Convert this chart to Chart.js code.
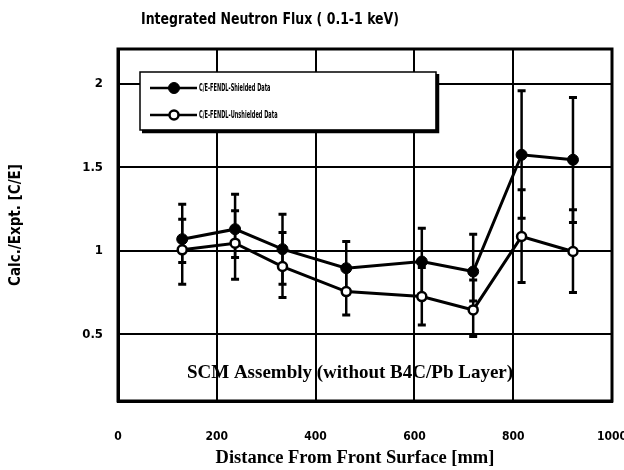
<!DOCTYPE html>
<html><head><meta charset="utf-8">
<script src="https://cdn.jsdelivr.net/npm/chart.js@4"></script>
<style>html,body{margin:0;padding:0;background:#fff}canvas{display:block}</style>
</head><body>
<canvas id="c" width="624" height="470"></canvas>
<script>
// ---- data ----
const distances = [130, 237, 333, 462, 615, 719, 817, 921];            // mm
const shielded = [1.07, 1.13, 1.01, 0.896, 0.936, 0.876, 1.576, 1.546];
const shieldedLow = [0.93, 0.96, 0.80, 0.74, 0.74, 0.70, 1.196, 1.17];
const shieldedHigh = [1.28, 1.34, 1.22, 1.056, 1.136, 1.10, 1.96, 1.92];
const unshielded = [1.006, 1.046, 0.906, 0.756, 0.726, 0.646, 1.086, 0.996];
const unshieldedLow = [0.80, 0.83, 0.72, 0.616, 0.556, 0.486, 0.81, 0.75];
const unshieldedHigh = [1.19, 1.24, 1.11, 0.90, 0.90, 0.826, 1.366, 1.246];
const xTicks = [0, 200, 400, 600, 800, 1000];
const yTicks = [0.5, 1, 1.5, 2];
const seriesLabels = ['C/E-FENDL-Shielded Data', 'C/E-FENDL-Unshielded Data'];
const titleText = 'Integrated Neutron Flux ( 0.1-1 keV)';
const xTitleText = 'Distance From Front Surface [mm]';
const yTitleText = 'Calc./Expt. [C/E]';
const noteText = 'SCM Assembly (without B4C/Pb Layer)';

const SANS = "'Liberation Sans Narrow','DejaVu Sans Condensed','Arial Narrow',sans-serif";
const SERIF = "'Liberation Serif','DejaVu Serif',serif";

const errorData = [
  {low: shieldedLow, high: shieldedHigh},
  {low: unshieldedLow, high: unshieldedHigh}
];

function squeezedText(ctx, text, x, y, sx) {
  ctx.save();
  ctx.translate(x, y);
  ctx.scale(sx, 1);
  ctx.fillText(text, 0, 0);
  ctx.restore();
}

const customPlugin = {
  id: 'custom',
  beforeDatasetsDraw(chart) {
    const {ctx, chartArea, scales: {x, y}} = chart;
    ctx.save();
    ctx.beginPath();
    ctx.rect(chartArea.left, chartArea.top, chartArea.right - chartArea.left, chartArea.bottom - chartArea.top);
    ctx.clip();
    ctx.strokeStyle = '#000';
    errorData.forEach((e) => {
      distances.forEach((d, i) => {
        const px = x.getPixelForValue(d);
        const pl = y.getPixelForValue(e.low[i]);
        const ph = y.getPixelForValue(e.high[i]);
        ctx.lineWidth = 2.5;
        ctx.beginPath();
        ctx.moveTo(px, pl); ctx.lineTo(px, ph);
        ctx.stroke();
        ctx.lineWidth = 3;
        ctx.beginPath();
        ctx.moveTo(px - 4, pl); ctx.lineTo(px + 4, pl);
        ctx.moveTo(px - 4, ph); ctx.lineTo(px + 4, ph);
        ctx.stroke();
      });
    });
    ctx.restore();
  },
  afterDraw(chart) {
    const {ctx, chartArea} = chart;
    ctx.save();
    // frame
    ctx.strokeStyle = '#000';
    ctx.lineWidth = 3;
    ctx.strokeRect(chartArea.left, chartArea.top, chartArea.right - chartArea.left, chartArea.bottom - chartArea.top);
    // title
    ctx.fillStyle = '#000';
    ctx.font = 'bold 16px ' + SANS;
    ctx.textAlign = 'left';
    ctx.textBaseline = 'middle';
    squeezedText(ctx, titleText, 141, 20, 0.87);
    // x axis title
    ctx.font = 'bold 18.5px ' + SERIF;
    ctx.textAlign = 'center';
    ctx.textBaseline = 'alphabetic';
    ctx.fillText(xTitleText, 355, 463);
    // annotation
    ctx.font = 'bold 19px ' + SERIF;
    ctx.fillText(noteText, 350, 378);
    // legend box
    const bx = 140, by = 72, bw = 296, bh = 58;
    ctx.fillStyle = '#fff';
    ctx.fillRect(bx, by, bw, bh);
    ctx.lineWidth = 1.5;
    ctx.strokeRect(bx, by, bw, bh);
    ctx.lineWidth = 3.5;
    ctx.beginPath();
    ctx.moveTo(bx + 2, by + bh + 1.5); ctx.lineTo(bx + bw + 1.5, by + bh + 1.5); ctx.lineTo(bx + bw + 1.5, by + 2);
    ctx.stroke();
    const rows = [88, 115];
    chart.data.datasets.forEach((ds, i) => {
      const yy = rows[i];
      ctx.strokeStyle = '#000';
      ctx.lineWidth = 2.5;
      ctx.beginPath();
      ctx.moveTo(150, yy); ctx.lineTo(197, yy);
      ctx.stroke();
      ctx.beginPath();
      ctx.arc(174, yy, ds.pointRadius, 0, Math.PI * 2);
      ctx.fillStyle = ds.pointBackgroundColor;
      ctx.fill();
      ctx.lineWidth = ds.pointBorderWidth;
      ctx.stroke();
      ctx.fillStyle = '#000';
      ctx.font = 'bold 10px ' + SANS;
      ctx.textAlign = 'left';
      ctx.textBaseline = 'middle';
      squeezedText(ctx, ds.label, 199, yy, 0.56);
    });
    ctx.restore();
  }
};

new Chart(document.getElementById('c'), {
  type: 'line',
  data: {
    datasets: [
      {
        label: seriesLabels[0],
        data: distances.map((d, i) => ({x: d, y: shielded[i]})),
        borderColor: '#000', borderWidth: 3,
        pointRadius: 5.5, pointBackgroundColor: '#000', pointBorderColor: '#000', pointBorderWidth: 1,
        tension: 0
      },
      {
        label: seriesLabels[1],
        data: distances.map((d, i) => ({x: d, y: unshielded[i]})),
        borderColor: '#000', borderWidth: 3,
        pointRadius: 4.5, pointBackgroundColor: '#fff', pointBorderColor: '#000', pointBorderWidth: 2.5,
        tension: 0
      }
    ]
  },
  options: {
    responsive: false,
    animation: false,
    layout: {padding: {top: 49, right: 12, left: 0, bottom: 0}},
    plugins: {legend: {display: false}, title: {display: false}, tooltip: {enabled: false}},
    scales: {
      x: {
        type: 'linear', min: 0, max: 1000,
        afterBuildTicks: (s) => { s.ticks = xTicks.map(v => ({value: v})); },
        afterFit: (s) => { s.height = 69; s.paddingLeft = 0; s.paddingRight = 0; },
        grid: {color: '#000', lineWidth: 2, drawTicks: false},
        border: {color: '#000', width: 3},
        ticks: {padding: 29, color: '#000', maxRotation: 0, callback: (v) => String(v),
                font: {family: SANS, size: 12, weight: 'bold'}}
      },
      y: {
        type: 'linear', min: 0.1, max: 2.21,
        afterBuildTicks: (s) => { s.ticks = yTicks.map(v => ({value: v})); },
        afterFit: (s) => { s.width = 118; s.paddingTop = 0; s.paddingBottom = 0; },
        grid: {color: '#000', lineWidth: 2, drawTicks: false},
        border: {color: '#000', width: 3},
        ticks: {padding: 15, color: '#000', callback: (v) => String(v),
                font: {family: SANS, size: 13, weight: 'bold'}},
        title: {display: true, text: yTitleText, color: '#000', padding: {top: 7, bottom: 0},
                font: {family: SANS, size: 15, weight: 'bold'}}
      }
    }
  },
  plugins: [customPlugin]
});
</script>
</body></html>
